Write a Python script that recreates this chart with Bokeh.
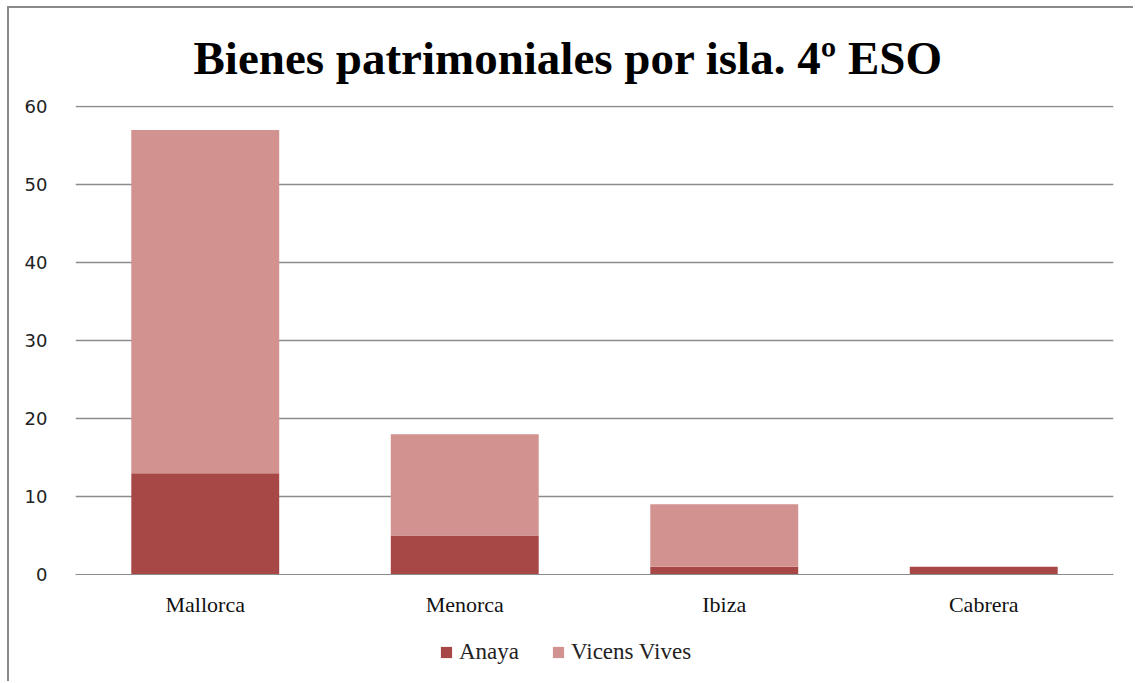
from bokeh.plotting import figure
from bokeh.models import ColumnDataSource, Legend, LegendItem, Title, FactorRange, Range1d
from bokeh.layouts import column
from bokeh.embed import file_html
from bokeh.resources import INLINE

islands = ["Mallorca", "Menorca", "Ibiza", "Cabrera"]
anaya = [13, 5, 1, 1]
vicens = [44, 13, 8, 0]
series = ["Anaya", "Vicens Vives"]
colors = ["#A84846", "#D19290"]

src = ColumnDataSource(dict(isla=islands, Anaya=anaya, **{"Vicens Vives": vicens}))

border = {"border-left": "2px solid #8a8a8a"}

p = figure(x_range=islands, y_range=(0, 60.15), width=1126, height=620,
           output_backend="svg", toolbar_location=None,
           min_border_left=66, min_border_right=22, min_border_top=97,
           min_border_bottom=54)
p.margin = (6, 0, 0, 7)
p.title = None
t = Title(text="Bienes patrimoniales por isla. 4º ESO", text_font="Liberation Serif",
          text_font_size="47px", text_font_style="bold", align="left",
          text_color="#000000", offset=118, standoff=43)
p.add_layout(t, "above")

r = p.vbar_stack(series, x="isla", width=0.57, source=src, color=colors,
                 line_color=None)

p.outline_line_color = None
p.background_fill_color = "white"
p.border_fill_color = "white"
p.xgrid.grid_line_color = None
p.ygrid.grid_line_color = "#8c8c8c"
p.ygrid.grid_line_width = 1.3
p.yaxis.ticker = [0, 10, 20, 30, 40, 50, 60]
p.yaxis.axis_line_color = None
p.yaxis.major_tick_line_color = None
p.yaxis.minor_tick_line_color = None
p.yaxis.major_label_text_font = "DejaVu Sans"
p.yaxis.major_label_text_font_size = "18px"
p.yaxis.major_label_text_color = "#222222"
p.yaxis.major_label_standoff = 22
p.xaxis.axis_line_color = "#8c8c8c"
p.xaxis.major_tick_line_color = None
p.xaxis.major_label_text_font = "Liberation Serif"
p.xaxis.major_label_text_font_size = "22px"
p.xaxis.major_label_text_color = "#111111"
p.xaxis.major_label_standoff = 11
p.x_range.range_padding = 0
p.styles = {"border-left": "2px solid #8a8a8a", "border-top": "2px solid #8a8a8a"}

# legend strip below the chart (bars kept out of its visible range)
q = figure(x_range=FactorRange(*islands), y_range=Range1d(1000, 1001), width=1126, height=55,
           output_backend="svg", toolbar_location=None,
           min_border_left=0, min_border_right=0, min_border_top=0, min_border_bottom=0)
q.margin = (0, 0, 0, 7)
rq = q.vbar_stack(series, x="isla", width=0.57, source=src, color=colors, line_color=None)
q.axis.visible = False
q.grid.grid_line_color = None
q.outline_line_color = None
q.styles = border

legend = Legend(items=[LegendItem(label=s, renderers=[rr]) for s, rr in zip(series, rq)],
                orientation="horizontal", location=(364, 16),
                label_text_font="Liberation Serif", label_text_font_size="23px",
                label_text_color="#222222", glyph_width=14, glyph_height=14,
                spacing=32, label_standoff=6, border_line_color=None,
                background_fill_alpha=0, padding=4, margin=0)
q.add_layout(legend, "center")

layout = column(p, q, spacing=0)
open("out.html", "w").write(file_html(layout, INLINE))
